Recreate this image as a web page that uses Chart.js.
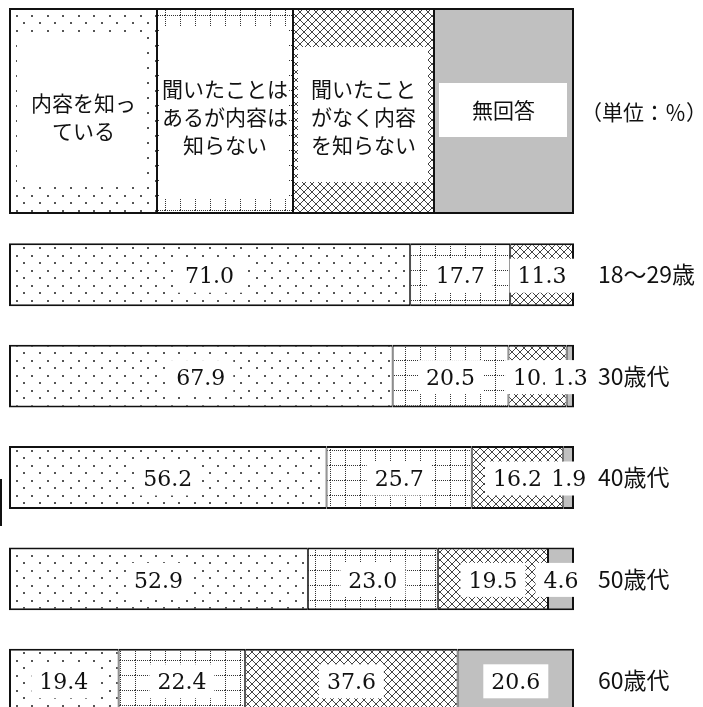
<!DOCTYPE html>
<html>
<head>
<meta charset="utf-8">
<script src="https://cdn.jsdelivr.net/npm/chart.js@4"></script>
<style>
  html, body { margin: 0; padding: 0; background: #fff; overflow: hidden; }
  canvas { display: block; }
</style>
</head>
<body>
<canvas id="chart" width="703" height="740"></canvas>
<script>
// 年代別の認知度（単位：%）
const ageGroups = ['18〜29歳', '30歳代', '40歳代', '50歳代', '60歳代'];
const knowContent = [71.0, 67.9, 56.2, 52.9, 19.4];
const heardOnly = [17.7, 20.5, 25.7, 23.0, 22.4];
const neverHeard = [11.3, 10.3, 16.2, 19.5, 37.6];
const noAnswer = [0, 1.3, 1.9, 4.6, 20.6];
const seriesNames = ['内容を知っている', '聞いたことはあるが内容は知らない', '聞いたことがなく内容を知らない', '無回答'];
const legendLines = [['内容を知っ', 'ている'], ['聞いたことは', 'あるが内容は', '知らない'], ['聞いたこと', 'がなく内容', 'を知らない'], ['無回答']];
const unitLabel = '（単位：％）';

const allSeries = [knowContent, heardOnly, neverHeard, noAnswer];

const canvas = document.getElementById('chart');
const ctx = canvas.getContext('2d');

// --- hatch patterns ---
function makePattern(w, h, draw) {
  const tile = document.createElement('canvas');
  tile.width = w; tile.height = h;
  const g = tile.getContext('2d');
  g.fillStyle = '#fff';
  g.fillRect(0, 0, w, h);
  draw(g, w, h);
  return ctx.createPattern(tile, 'repeat');
}

const dotPattern = makePattern(31, 15, g => {
  g.fillStyle = '#555';
  g.fillRect(0, 0, 2, 2); g.fillRect(16, 0, 2, 2);
  g.fillRect(8, 7, 2, 2); g.fillRect(23, 7, 2, 2);
});
const gridPattern = makePattern(15, 15, g => {
  g.fillStyle = '#333';
  for (let i = 0; i < 15; i += 2) {
    g.fillRect(i, 0, 1, 1);
    g.fillRect(0, i, 1, 1);
  }
});
const crossPattern = makePattern(8, 8, (g, w, h) => {
  g.strokeStyle = '#444';
  g.lineWidth = 1;
  g.beginPath();
  g.moveTo(-1, -1); g.lineTo(w + 1, h + 1);
  g.moveTo(w + 1, -1); g.lineTo(-1, h + 1);
  g.stroke();
});
const fills = [dotPattern, gridPattern, crossPattern, '#c0c0c0'];

// outer edges 2px, inner dividers 1+1
function borderFor(c) {
  const vals = allSeries.map(s => s[c.dataIndex]);
  const first = vals.findIndex(v => v > 0);
  let last = vals.length - 1;
  while (last > 0 && vals[last] === 0) last--;
  return {
    top: 2, bottom: 2,
    left: c.datasetIndex === first ? 2 : 1,
    right: c.datasetIndex === last ? 2 : 1
  };
}

// === value labels with white boxes ===
const valueLabels = {
  id: 'valueLabels',
  afterDatasetsDraw(chart) {
    const c = chart.ctx;
    c.save();
    c.font = '22px "DejaVu Serif"';
    c.textAlign = 'center';
    c.textBaseline = 'middle';
    chart.data.datasets.forEach((ds, di) => {
      chart.getDatasetMeta(di).data.forEach((bar, i) => {
        const v = ds.data[i];
        if (!v) return;
        const txt = v.toFixed(1);
        const cx = (bar.x + bar.base) / 2;
        const cy = bar.y;
        const w = c.measureText(txt).width + 16;
        c.fillStyle = '#fff';
        c.fillRect(cx - w / 2, cy - 16, w, 34);
        c.fillStyle = '#111';
        c.fillText(txt, cx, cy + 3);
      });
    });
    c.restore();
  }
};

// === legend box on top ===
const legendBox = {
  id: 'legendBox',
  afterDraw(chart) {
    const c = chart.ctx;
    const edges = [10, 157, 293, 434, 573];
    const top = 9, bottom = 213;
    // white text panels: [insetLeft, top, insetRight, bottom]
    const panels = [[7, 35, 11, 186], [3, 27, 5, 199], [5, 47, 6, 182], [5, 83, 6, 137]];
    const textY = [117, 117, 117, 110];
    c.save();
    for (let i = 0; i < 4; i++) {
      const x0 = edges[i], x1 = edges[i + 1];
      c.fillStyle = fills[i];
      c.fillRect(x0, top, x1 - x0, bottom - top);
      const p = panels[i];
      c.fillStyle = '#fff';
      c.fillRect(x0 + p[0], p[1], (x1 - p[2]) - (x0 + p[0]), p[3] - p[1]);
      c.fillStyle = '#111';
      c.font = '21px "Noto Sans CJK JP"';
      c.textAlign = 'center';
      c.textBaseline = 'middle';
      const lines = legendLines[i];
      const lh = 28;
      lines.forEach((ln, k) => {
        c.fillText(ln, (x0 + x1) / 2, textY[i] + (k - (lines.length - 1) / 2) * lh);
      });
    }
    c.strokeStyle = '#111';
    c.lineWidth = 2;
    c.strokeRect(edges[0], top, edges[4] - edges[0], bottom - top);
    c.beginPath();
    for (let i = 1; i < 4; i++) {
      c.moveTo(edges[i], top); c.lineTo(edges[i], bottom);
    }
    c.stroke();

    c.fillStyle = '#111';
    c.font = '21px "Noto Sans CJK JP"';
    c.fillText(unitLabel, 644, 112);

    // stray mark on the left edge
    c.fillRect(0, 479, 2, 47);
    c.restore();
  }
};

new Chart(ctx, {
  type: 'bar',
  data: {
    labels: ageGroups,
    datasets: allSeries.map((vals, i) => ({
      label: seriesNames[i],
      data: vals,
      backgroundColor: fills[i],
      borderColor: '#111',
      borderWidth: borderFor,
      borderSkipped: false,
      categoryPercentage: 1,
      barPercentage: 0.62
    }))
  },
  options: {
    indexAxis: 'y',
    responsive: false,
    animation: false,
    layout: { padding: { left: 9, top: 224, right: 0, bottom: 9 } },
    scales: {
      x: { stacked: true, min: 0, max: 100, display: false },
      y: {
        stacked: true,
        position: 'right',
        grid: { display: false, drawTicks: false },
        border: { display: false },
        ticks: { padding: 24, color: '#111', font: { family: 'Noto Sans CJK JP', size: 23 } },
        afterFit: s => {
          s.width = 129;
          s.paddingTop = 0;
          s.paddingBottom = 0;
        }
      }
    },
    plugins: {
      legend: { display: false },
      tooltip: { enabled: false }
    }
  },
  plugins: [valueLabels, legendBox]
});
</script>
</body>
</html>
